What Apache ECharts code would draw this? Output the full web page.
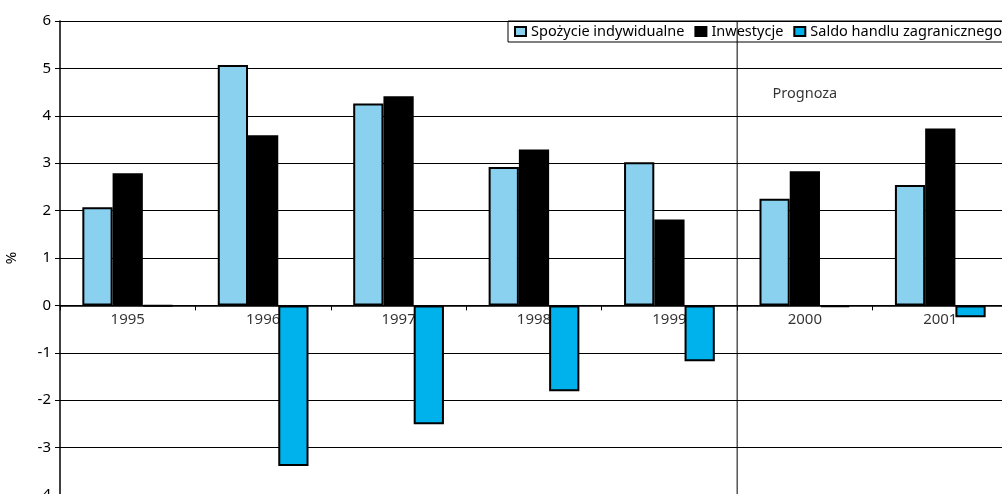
<!DOCTYPE html>
<html>
<head>
<meta charset="utf-8">
<script src="https://cdn.jsdelivr.net/npm/echarts@6/dist/echarts.min.js"></script>
<style>
html,body{margin:0;padding:0;overflow:hidden;background:#fff;}
#chart{width:1010px;height:500px;}
</style>
</head>
<body>
<div id="chart"></div>
<script>
const categories = ['1995','1996','1997','1998','1999','2000','2001'];
const seriesNames = ['Spożycie indywidualne','Inwestycje','Saldo handlu zagranicznego'];
const spozycie = [2.07, 5.07, 4.26, 2.92, 3.02, 2.25, 2.54];
const inwestycje = [2.79, 3.59, 4.41, 3.29, 1.81, 2.83, 3.73];
const saldo = [-0.02, -3.39, -2.51, -1.81, -1.18, -0.04, -0.25];
const forecastStartIndex = 5;
const forecastLabel = 'Prognoza';
const forecastLabelPos = [5.5, 4.47];
const yMin = -4, yMax = 6, yInterval = 1;

const font = 'Noto Sans';
const chart = echarts.init(document.getElementById('chart'));
const barBase = {type:'bar', barGap:'0%', barCategoryGap:'33%', xAxisIndex:0, yAxisIndex:0, z:2};
chart.setOption({
  animation:false,
  textStyle:{fontFamily:font, color:'#000'},
  legend:{
    left:508, top:21, orient:'horizontal',
    borderColor:'#000', borderWidth:1, padding:[3,6,3,6],
    itemWidth:11, itemHeight:9, itemGap:10,
    textStyle:{fontFamily:font, fontSize:14.5, color:'#000'},
    data:seriesNames.map(n=>({name:n, icon:'rect'}))
  },
  grid:{left:60, right:2, top:21, height:474, containLabel:false, outerBoundsMode:'none'},
  xAxis:[{
    type:'category', data:categories,
    axisLine:{onZero:true, lineStyle:{color:'#000', width:1.5}},
    axisTick:{show:true, alignWithLabel:false, length:5, lineStyle:{color:'#000'}},
    axisLabel:{show:false},
    splitLine:{show:false}
  },{
    type:'value', min:0, max:categories.length, show:false
  }],
  yAxis:{
    type:'value', min:yMin, max:yMax, interval:yInterval,
    name:'%', nameLocation:'middle', nameGap:41, nameRotate:90,
    nameTextStyle:{fontFamily:font, fontSize:15, color:'#000'},
    axisLine:{show:true, lineStyle:{color:'#000', width:1.5}},
    axisTick:{show:true, length:5, lineStyle:{color:'#000'}},
    axisLabel:{fontFamily:font, fontSize:15, color:'#000', margin:9},
    splitLine:{show:true, lineStyle:{color:'#000', width:1}}
  },
  series:[
    {type:'scatter', xAxisIndex:0, yAxisIndex:0, z:1, symbolSize:0, silent:true,
      data:categories.map(c=>[c,0]),
      label:{show:true, position:'bottom', distance:7, formatter:p=>p.data[0],
        fontFamily:font, fontSize:15, color:'#000'}},
    Object.assign({}, barBase, {name:seriesNames[0], data:spozycie, itemStyle:{color:'#8AD1F0', borderColor:'#000', borderWidth:2}}),
    Object.assign({}, barBase, {name:seriesNames[1], data:inwestycje, itemStyle:{color:'#000', borderColor:'#000', borderWidth:2}}),
    Object.assign({}, barBase, {name:seriesNames[2], data:saldo, itemStyle:{color:'#00B2EC', borderColor:'#000', borderWidth:2}}),
    {type:'line', xAxisIndex:1, yAxisIndex:0, data:[[forecastStartIndex, yMax],[forecastStartIndex, yMin]],
      symbol:'none', lineStyle:{color:'#000', width:1}, z:3, silent:true},
    {type:'scatter', xAxisIndex:1, yAxisIndex:0, data:[forecastLabelPos], symbolSize:0,
      label:{show:true, position:'inside', formatter:forecastLabel, fontFamily:font, fontSize:14.5, color:'#000'}, silent:true}
  ]
});
</script>
</body>
</html>
